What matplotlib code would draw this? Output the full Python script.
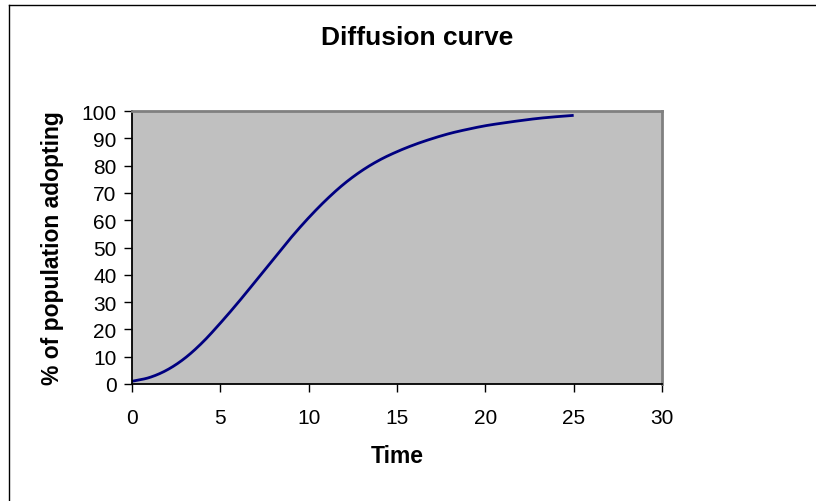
import numpy as np
import matplotlib
matplotlib.use("Agg")
import matplotlib.pyplot as plt
from matplotlib.lines import Line2D

plt.rcParams['font.family'] = ['Liberation Sans', 'DejaVu Sans']

# share of the population that has adopted, one value per time step
time = list(range(26))
adopting = [1.0, 2.4, 5.2, 9.5, 15.3, 22.3, 29.8, 37.7, 45.7, 53.6,
             60.9, 67.5, 73.3, 78.1, 82.0, 85.1, 87.7, 89.9, 91.8, 93.3,
             94.6, 95.6, 96.5, 97.3, 97.9, 98.4]

title = "Diffusion curve"
xlabel = "Time"
ylabel = "% of population adopting"
xticks = [0, 5, 10, 15, 20, 25, 30]
yticks = list(range(0, 101, 10))

W, H = 816, 502
fig = plt.figure(figsize=(W / 100, H / 100), dpi=100)
fig.patch.set_facecolor("white")

# chart frame: only the left and top edges fall inside the image
fig.lines.append(Line2D([8.5 / W, 8.5 / W], [0, 1 - 5.5 / H],
                        transform=fig.transFigure, color="black", linewidth=1.0))
fig.lines.append(Line2D([8.5 / W, 1], [1 - 5.5 / H, 1 - 5.5 / H],
                        transform=fig.transFigure, color="black", linewidth=1.0))

ax = fig.add_axes([132 / W, 1 - 385 / H, 530 / W, 273 / H])
ax.set_facecolor("#C0C0C0")


def catmull(x, y, xs):
    # Catmull-Rom spline through the points, like a smoothed spreadsheet line
    out = np.empty_like(xs)
    n = len(x)
    for k, xv in enumerate(xs):
        i = min(int(np.searchsorted(x, xv, side="right")) - 1, n - 2)
        i = max(i, 0)
        p0 = y[i - 1] if i > 0 else 2 * y[0] - y[1]
        p1, p2 = y[i], y[i + 1]
        p3 = y[i + 2] if i + 2 < n else 2 * y[-1] - y[-2]
        s = (xv - x[i]) / (x[i + 1] - x[i])
        out[k] = 0.5 * ((2 * p1) + (-p0 + p2) * s
                        + (2 * p0 - 5 * p1 + 4 * p2 - p3) * s ** 2
                        + (-p0 + 3 * p1 - 3 * p2 + p3) * s ** 3)
    return out


t = np.array(time, dtype=float)
y = np.array(adopting)
tt = np.linspace(t[0], t[-1], 400)
ax.plot(tt, catmull(t, y, tt), color="#000080", linewidth=2.0,
        solid_capstyle="butt")

ax.set_xlim(0, 30)
ax.set_ylim(0, 100)
ax.set_xticks(xticks)
ax.set_yticks(yticks)
ax.tick_params(axis="both", direction="out", length=6, width=1.0,
               labelsize=15, colors="black")
ax.tick_params(axis="x", pad=11)
ax.tick_params(axis="y", pad=5)

for side in ("left", "bottom"):
    ax.spines[side].set_color("black")
    ax.spines[side].set_linewidth(1.3)
for side in ("top", "right"):
    ax.spines[side].set_color("#808080")
    ax.spines[side].set_linewidth(2.0)

fig.text(417 / W, 1 - 38 / H, title, ha="center", va="center",
         fontsize=19, fontweight="bold")
fig.text(397 / W, 1 - 457 / H, xlabel, ha="center", va="center",
         fontsize=16.5, fontweight="bold")
fig.text(53 / W, 1 - 248 / H, ylabel, ha="center", va="center",
         rotation=90, fontsize=16.5, fontweight="bold")

fig.savefig("out.png", dpi=100, facecolor="white")
